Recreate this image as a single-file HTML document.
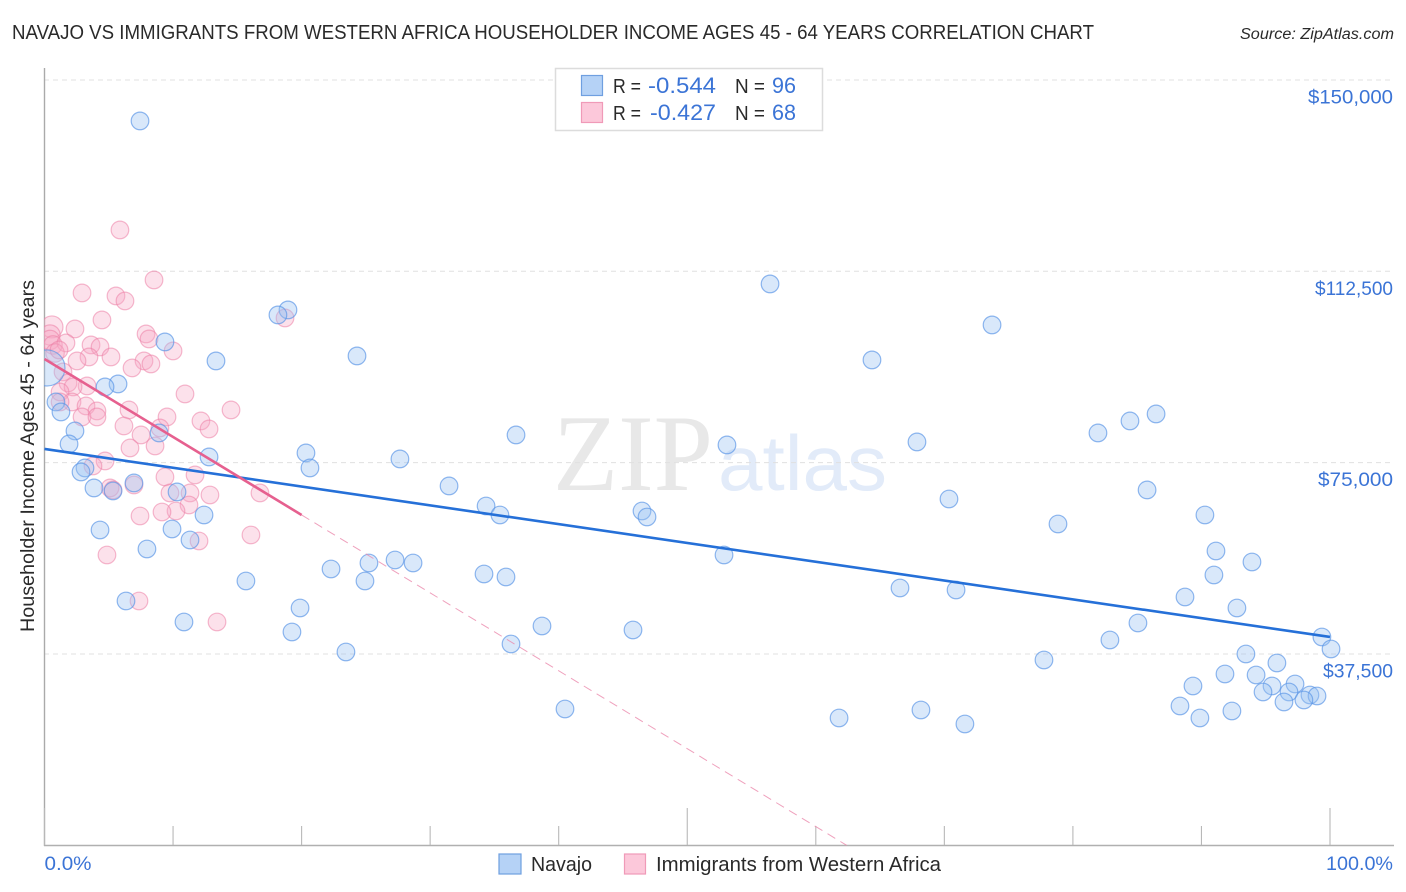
<!DOCTYPE html>
<html lang="en">
<head>
<meta charset="utf-8">
<title>Navajo vs Immigrants from Western Africa Householder Income Correlation Chart</title>
<style>
html,body{margin:0;padding:0;background:#fff;width:1406px;height:892px;overflow:hidden}
svg{display:block;font-family:"Liberation Sans",sans-serif}
</style>
</head>
<body>
<svg id="chart" width="1406" height="892" viewBox="0 0 1406 892">
  <defs><clipPath id="plot-clip"><rect x="44" y="60" width="1350" height="785"/></clipPath></defs>
  <text x="12" y="39" font-size="20" fill="#2a2a2a" textLength="1082" lengthAdjust="spacingAndGlyphs">NAVAJO VS IMMIGRANTS FROM WESTERN AFRICA HOUSEHOLDER INCOME AGES 45 - 64 YEARS CORRELATION CHART</text>
  <text x="1394" y="39" font-size="15.5" font-style="italic" fill="#2a2a2a" text-anchor="end" textLength="154" lengthAdjust="spacingAndGlyphs">Source: ZipAtlas.com</text>
  <text x="553" y="490" font-family="'Liberation Serif',serif" font-size="109" fill="#e8e8e8" textLength="160" lengthAdjust="spacingAndGlyphs">ZIP</text>
  <text x="718" y="490" font-size="78" fill="#e2ebf9" textLength="169" lengthAdjust="spacingAndGlyphs">atlas</text>
  <g id="grid"></g>
  <g id="axes"></g>
  <g id="points" clip-path="url(#plot-clip)"></g>
  <g id="trends"></g>
  <g id="tick-labels"></g>
  <text transform="translate(34,632) rotate(-90)" font-size="19" fill="#2a2a2a" textLength="352" lengthAdjust="spacingAndGlyphs">Householder Income Ages 45 - 64 years</text>

  <g>
    <rect x="555.5" y="68.5" width="267" height="62" fill="#fff" stroke="#dcdcdc" stroke-width="1.5"/>
    <rect x="581.5" y="75.5" width="21" height="20" fill="#b5d2f6" stroke="#6f9fe0" stroke-width="1.2"/>
    <rect x="581.5" y="102.5" width="21" height="20" fill="#fcc8da" stroke="#f09ab8" stroke-width="1.2"/>
    <text x="613" y="93" font-size="20" fill="#2a2a2a" textLength="28" lengthAdjust="spacingAndGlyphs">R =</text>
    <text x="648" y="93" font-size="22" fill="#3b74d6" textLength="68" lengthAdjust="spacingAndGlyphs">-0.544</text>
    <text x="735" y="93" font-size="20" fill="#2a2a2a" textLength="30" lengthAdjust="spacingAndGlyphs">N =</text>
    <text x="772" y="93" font-size="22" fill="#3b74d6" textLength="24" lengthAdjust="spacingAndGlyphs">96</text>
    <text x="613" y="120" font-size="20" fill="#2a2a2a" textLength="28" lengthAdjust="spacingAndGlyphs">R =</text>
    <text x="650" y="120" font-size="22" fill="#3b74d6" textLength="66" lengthAdjust="spacingAndGlyphs">-0.427</text>
    <text x="735" y="120" font-size="20" fill="#2a2a2a" textLength="30" lengthAdjust="spacingAndGlyphs">N =</text>
    <text x="772" y="120" font-size="22" fill="#3b74d6" textLength="24" lengthAdjust="spacingAndGlyphs">68</text>
  </g>

  <g>
    <rect x="499" y="854" width="22" height="20" fill="#b5d2f6" stroke="#6f9fe0" stroke-width="1.2"/>
    <text x="531" y="871" font-size="20" fill="#2a2a2a" textLength="61" lengthAdjust="spacingAndGlyphs">Navajo</text>
    <rect x="624.5" y="854" width="21" height="20" fill="#fcc8da" stroke="#f09ab8" stroke-width="1.2"/>
    <text x="656" y="871" font-size="20" fill="#2a2a2a" textLength="285" lengthAdjust="spacingAndGlyphs">Immigrants from Western Africa</text>
  </g>
</svg>
<script>
const navajoX = [7.43,56.44,18.94,18.16,73.71,9.37,24.31,64.37,13.34,5.72,4.71,0.19,0.89,1.28,86.47,84.44,81.95,36.68,2.37,8.91,1.91,53.09,67.87,20.34,12.80,27.65,20.65,3.15,2.84,31.47,3.85,5.33,6.96,10.31,85.77,70.36,34.35,35.43,46.48,46.87,12.41,90.27,78.84,4.32,9.92,11.32,7.97,91.13,52.86,27.27,28.67,25.24,93.93,22.29,34.19,35.90,24.93,15.67,90.97,66.55,70.91,88.72,6.34,19.88,92.76,10.85,85.06,38.70,45.78,19.25,82.88,99.37,100.08,36.29,23.45,93.46,77.75,95.87,91.83,94.25,89.34,95.49,97.28,94.79,96.81,98.44,98.99,97.97,96.42,88.33,40.49,68.18,92.37,61.81,89.88,71.60];
const navajoY = [141968,110020,104924,103944,101984,98652,95908,95124,94928,90420,89832,93556,86892,84932,84540,83168,80816,80424,81208,80816,78660,78464,79052,76896,76112,75720,73956,73956,73172,70428,70036,69448,71016,69252,69644,67880,66508,64744,65528,64352,64744,64744,62980,61804,62000,59844,58080,57688,56904,55924,55336,55336,55532,54160,53180,52592,51808,51808,52984,50436,50044,48672,47888,46516,46516,43772,43576,42988,42204,41812,40244,40832,38480,39460,37892,37500,36324,35736,33580,33384,31228,31228,31620,30052,30052,29464,29268,28484,28092,27308,26720,26524,26328,24956,24956,23780];
const navajoWeight = [1,1,1,1,1,1,1,1,1,1,1,2.05,1,1,1,1,1,1,1,1,1,1,1,1,1,1,1,1,1,1,1,1,1,1,1,1,1,1,1,1,1,1,1,1,1,1,1,1,1,1,1,1,1,1,1,1,1,1,1,1,1,1,1,1,1,1,1,1,1,1,1,1,1,1,1,1,1,1,1,1,1,1,1,1,1,1,1,1,1,1,1,1,1,1,1,1];
const immigrantsX = [8.52,5.87,2.92,5.56,6.26,18.71,4.47,2.37,7.90,8.13,0.58,0.43,0.43,0.66,1.67,3.62,4.32,10.0,5.17,3.46,0.82,2.53,7.74,8.28,6.81,1.44,1.83,3.31,2.22,10.93,1.21,2.14,1.21,14.51,6.57,3.23,4.08,2.92,4.08,9.53,12.17,12.80,6.18,8.98,7.51,8.60,6.65,4.71,3.77,9.37,11.71,5.10,5.33,6.96,9.76,11.32,12.87,11.24,10.23,9.14,7.43,12.02,16.06,16.76,4.86,7.35,13.42,1.13];
const immigrantsY = [110804,120604,108256,107668,106688,103356,102964,101200,100220,99240,101592,100024,99044,98064,98456,98064,97672,96888,95712,95712,96496,94928,94928,94340,93556,92772,90616,90028,89832,88460,88852,86892,86892,85324,85324,86108,85128,83952,83952,83952,83168,81600,82188,81796,80424,78268,77876,75328,74348,72192,72584,70036,69644,70624,69056,69056,68664,66704,65528,65332,64548,59648,60824,69056,56904,47888,43772,97084];
const immigrantsWeight = [1,1,1,1,1,1,1,1,1,1,1.25,1.15,1.1,1.05,1,1,1,1,1,1,1.05,1,1,1,1,1,1,1,1,1,1,1,1,1,1,1,1,1,1,1,1,1,1,1,1,1,1,1,1,1,1,1,1,1,1,1,1,1,1,1,1,1,1,1,1,1,1,1];
const navajoTrendX = [0,100];
const navajoTrendY = [77680,40832];
const immigrantsTrendX = [0,20];
const immigrantsTrendY = [95320,64744];
const immigrantsProjectionX = [20,62.4];
const immigrantsProjectionY = [64744,0];
const yTicks = [37500,75000,112500,150000];
const yTickLabels = ["$37,500","$75,000","$112,500","$150,000"];
const xTicks = [0,10,20,30,40,50,60,70,80,90,100];
const xMajorTicks = [0,50,100];
const xEndLabels = ["0.0%","100.0%"];

const yLabelWidths = [70,75,78,85];
const NS = "http://www.w3.org/2000/svg";
const sx = v => 44.5 + v * 12.855;
const sy = v => 845.3 - v * 0.0051022;
const make = (tag, attrs, parent) => {
  const el = document.createElementNS(NS, tag);
  for (const k in attrs) el.setAttribute(k, attrs[k]);
  parent.appendChild(el);
  return el;
};
const grid = document.getElementById("grid");
const axes = document.getElementById("axes");
const pts = document.getElementById("points");
const trends = document.getElementById("trends");
const labels = document.getElementById("tick-labels");

yTicks.forEach((t, i) => {
  const line = make("line", {x1:44, x2:1394, y1:sy(t), y2:sy(t), stroke:"#e0e0e0", "stroke-width":1, "stroke-dasharray":"5 4"}, grid);
  
  
  const label = make("text", {x:1393, y:sy(t) + 23.5, "font-size":19, fill:"#3b74d6", "text-anchor":"end", textLength:yLabelWidths[i], lengthAdjust:"spacingAndGlyphs"}, labels);
  label.textContent = yTickLabels[i];
  
  
});

const yAxis = make("line", {x1:44.5, x2:44.5, y1:68, y2:846, stroke:"#aaaaaa", "stroke-width":1.4}, axes);


const xAxis = make("line", {x1:44, x2:1394, y1:845.5, y2:845.5, stroke:"#b0b0b0", "stroke-width":1.4}, axes);


xTicks.forEach(t => {
  const top = xMajorTicks.includes(t) ? 808 : 826;
  const tick = make("line", {x1:sx(t), x2:sx(t), y1:top, y2:845, stroke:"#b8b8b8", "stroke-width":1.1}, axes);
  
  
});

const xLabelLeft = make("text", {x:sx(xTicks[0]), y:870, "font-size":19, fill:"#3b74d6", textLength:47, lengthAdjust:"spacingAndGlyphs"}, labels);
xLabelLeft.textContent = xEndLabels[0];


const xLabelRight = make("text", {x:1393, y:870, "font-size":19, fill:"#3b74d6", "text-anchor":"end", textLength:67, lengthAdjust:"spacingAndGlyphs"}, labels);
xLabelRight.textContent = xEndLabels[1];



immigrantsX.forEach((x, i) => {
  const c = make("circle", {cx:sx(x), cy:sy(immigrantsY[i]), r:8.8 * immigrantsWeight[i], fill:"#f7a8c4", "fill-opacity":0.34, stroke:"#ec7fa6", "stroke-opacity":0.55, "stroke-width":1.2}, pts);
  
  
});
navajoX.forEach((x, i) => {
  const c = make("circle", {cx:sx(x), cy:sy(navajoY[i]), r:8.8 * navajoWeight[i], fill:"#9cc2f2", "fill-opacity":0.38, stroke:"#5a95e6", "stroke-opacity":0.68, "stroke-width":1.2}, pts);
  
  
});

const navajoLine = make("line", {x1:sx(navajoTrendX[0]), y1:sy(navajoTrendY[0]), x2:sx(navajoTrendX[1]), y2:sy(navajoTrendY[1]), stroke:"#2570d8", "stroke-width":2.6}, trends);


const immigrantsLine = make("line", {x1:sx(immigrantsTrendX[0]), y1:sy(immigrantsTrendY[0]), x2:sx(immigrantsTrendX[1]), y2:sy(immigrantsTrendY[1]), stroke:"#e6608f", "stroke-width":2.6}, trends);


const projection = make("line", {x1:sx(immigrantsProjectionX[0]), y1:sy(immigrantsProjectionY[0]), x2:sx(immigrantsProjectionX[1]), y2:sy(immigrantsProjectionY[1]), stroke:"#eb8aac", "stroke-opacity":0.8, "stroke-width":1, "stroke-dasharray":"9 6"}, trends);


</script>
</body>
</html>
